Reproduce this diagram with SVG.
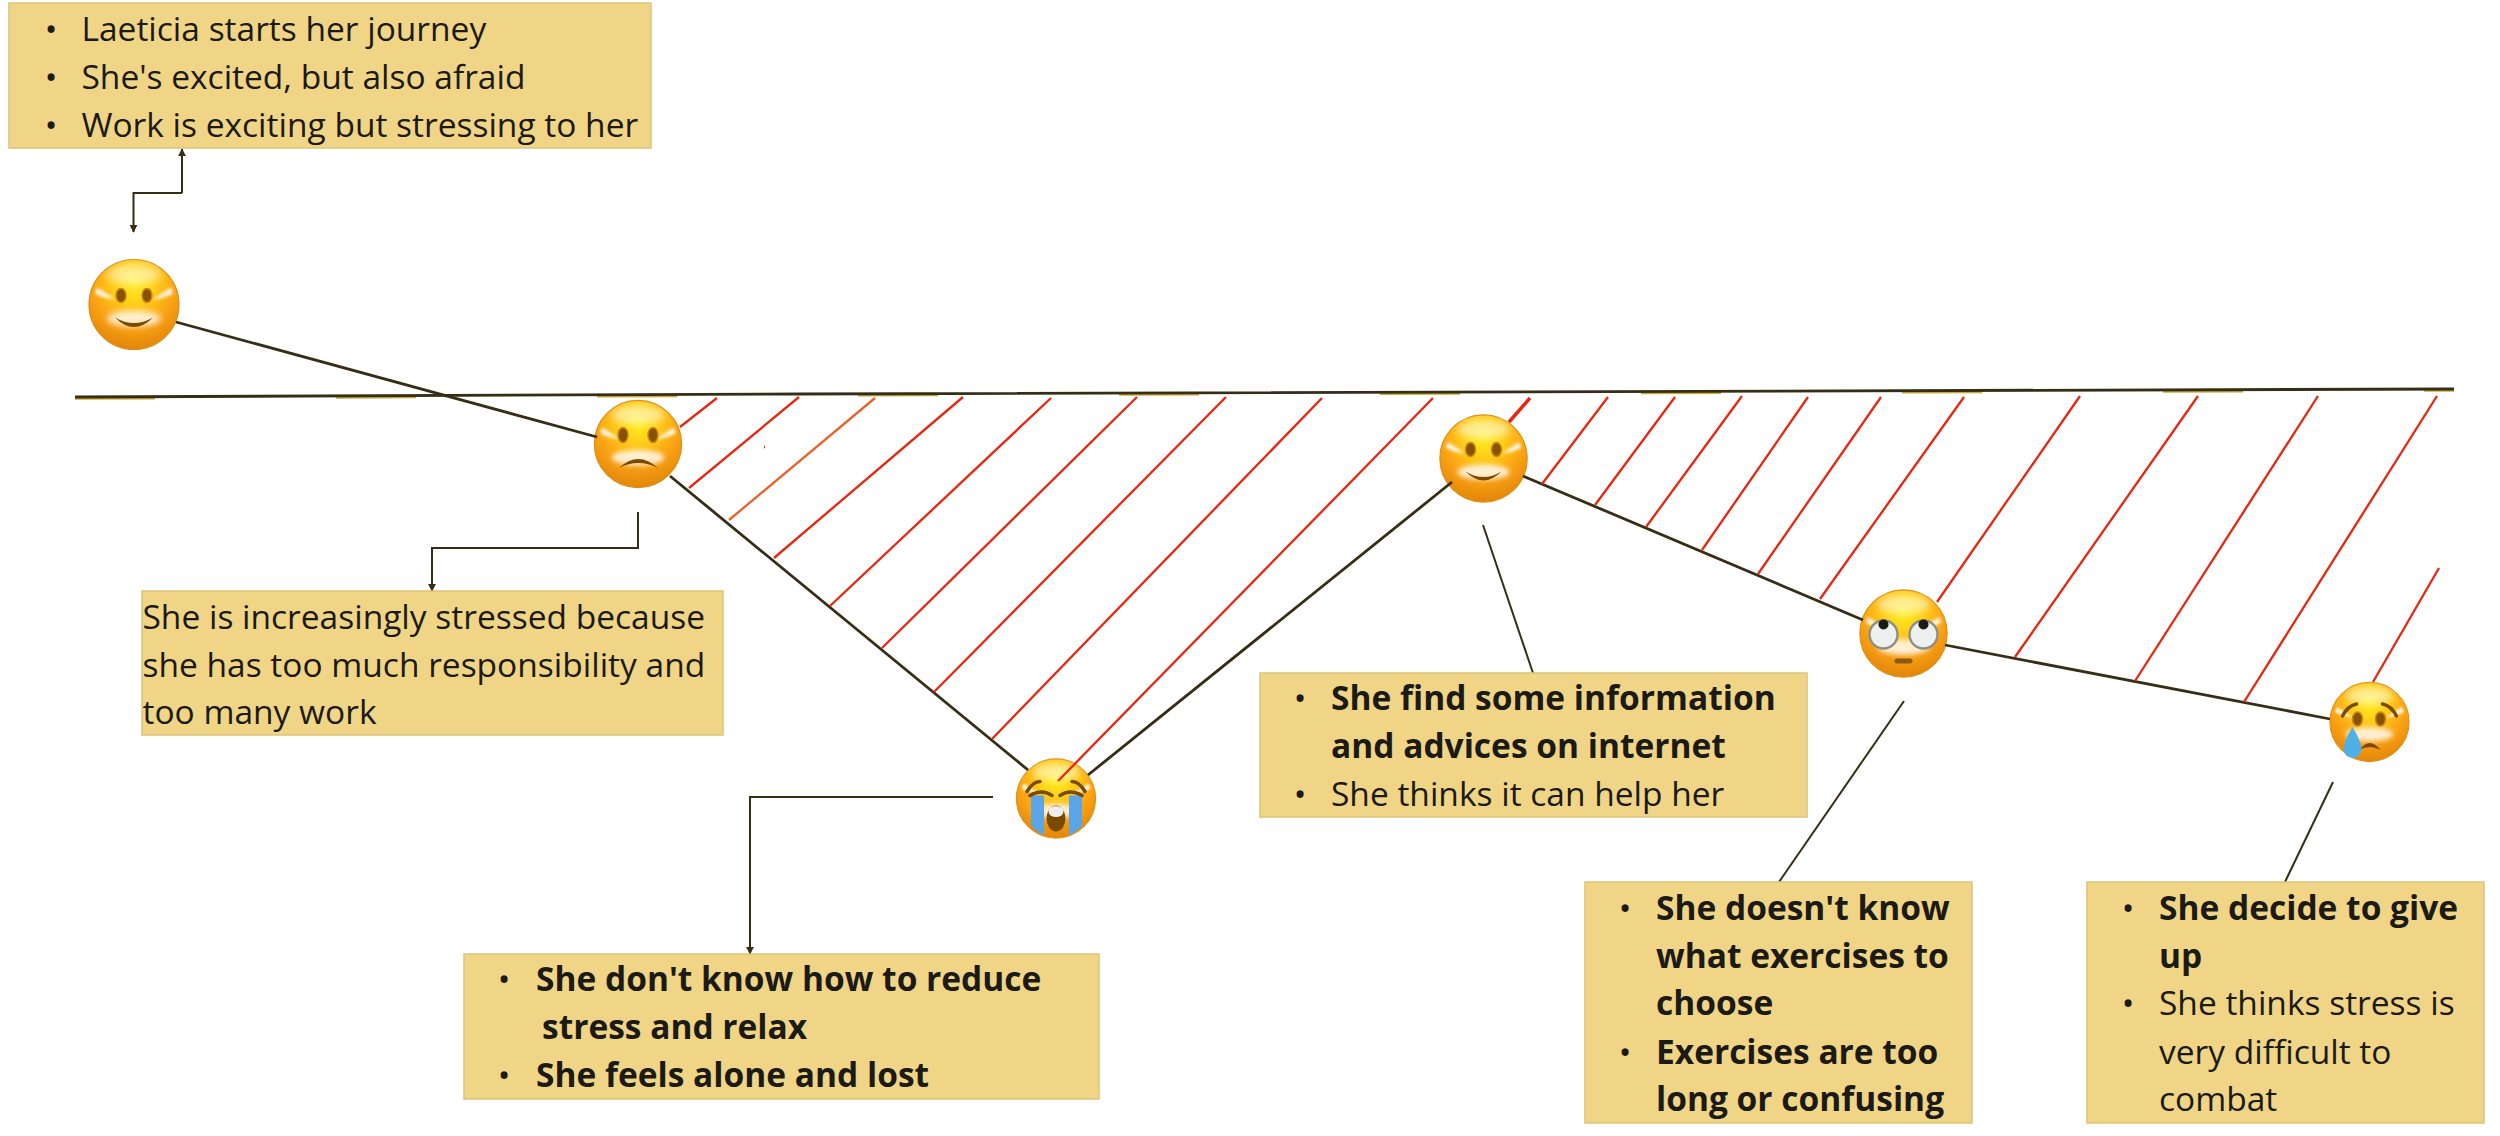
<svg xmlns="http://www.w3.org/2000/svg" width="2500" height="1136" viewBox="0 0 2500 1136">
<style>
.box{fill:#f0d586;stroke:#dcc377;stroke-width:1.5}
text{font-family:"Open Sans","Noto Sans","Liberation Sans",sans-serif;font-size:33.5px;fill:#1c1a14}
.b{font-weight:700}
.bu{text-anchor:middle}
.k{fill:none;stroke:#352d14;stroke-width:2.8}
.kt{fill:none;stroke:#352d14;stroke-width:2}
.r{fill:none;stroke:#e8260f;stroke-width:2.3}
.eye{fill:#8a5200;stroke:#c98a10;stroke-width:1.5}
.dk{fill:#7a4a00}
.br{fill:none;stroke:#7a4a00;stroke-width:3.5;stroke-linecap:round}
.ey2{fill:#eef0f0;stroke:#8f8f85;stroke-width:2.4}
</style>
<defs>
<radialGradient id="faceG" cx="50%" cy="26%" r="74%">
<stop offset="0" stop-color="#ffee20"/>
<stop offset=".3" stop-color="#ffcf18"/>
<stop offset=".62" stop-color="#fba414"/>
<stop offset="1" stop-color="#e2860a"/>
</radialGradient>
<filter id="bl" x="-30%" y="-30%" width="160%" height="160%"><feGaussianBlur stdDeviation="1.5"/></filter>
<filter id="bl3" x="-30%" y="-50%" width="160%" height="200%"><feGaussianBlur stdDeviation="3"/></filter>
<filter id="bl4" x="-40%" y="-40%" width="180%" height="180%"><feGaussianBlur stdDeviation="4"/></filter>
<marker id="arr" viewBox="0 0 10 10" refX="9" refY="5" markerWidth="8" markerHeight="8" markerUnits="userSpaceOnUse" orient="auto"><path d="M0,0L10,5L0,10Z" fill="#352d14"/></marker>
<g id="face">
<circle r="45" fill="url(#faceG)" stroke="#dd8f14" stroke-width="1.2"/>
<ellipse cy="-30" rx="27" ry="10" fill="#fff" opacity=".5" filter="url(#bl4)"/>
<path d="M-37,-17Q-30,-13 -19,-5Q-30,-6 -39,-11Z" fill="#fff" filter="url(#bl)" opacity=".85"/>
<path d="M37,-17Q30,-13 19,-5Q30,-6 39,-11Z" fill="#fff" filter="url(#bl)" opacity=".85"/>
<ellipse cy="14" rx="27" ry="8" fill="#fff" filter="url(#bl3)" opacity=".8"/>
</g>
</defs>

<g id="node-emoji-1" transform="translate(134 304.500)">
<use href="#face"/>
<ellipse class="eye" cx="-13" cy="-9" rx="5" ry="7"/><ellipse class="eye" cx="13" cy="-9" rx="5" ry="7"/>
<path class="dk" d="M-19,13Q0,24 19,13Q0,32 -19,13Z"/>
</g>
<g id="node-emoji-2" transform="translate(638 444)">
<use href="#face" transform="scale(.97)"/>
<ellipse class="eye" cx="-15" cy="-9" rx="5" ry="7.500"/><ellipse class="eye" cx="15" cy="-9" rx="5" ry="7.500"/>
<path class="dk" d="M-19,24Q0,6 20,24Q0,14 -19,24Z"/>
</g>
<g id="node-emoji-3" transform="translate(1056 798.500)">
<use href="#face" transform="scale(.88)"/>
<path d="M-25,-3H-12V37Q-20,33 -25,27Z" fill="#5aa5e8"/><path d="M13,-3H26V27Q21,33 13,37Z" fill="#5aa5e8"/>
<path class="br" d="M-29,-7Q-23,-17 -16,-17"/><path class="br" d="M29,-7Q23,-17 16,-17"/>
<path class="br" d="M-26,-3Q-14,-10 -4,-3"/><path class="br" d="M26,-3Q14,-10 4,-3"/>
<ellipse class="dk" cy="20" rx="9.500" ry="13"/>
<ellipse cy="13" rx="7.500" ry="5.500" fill="#eee"/>
</g>
<g id="node-emoji-4" transform="translate(1483.500 458.500)">
<use href="#face" transform="scale(.97)"/>
<ellipse class="eye" cx="-13" cy="-9" rx="5" ry="7"/><ellipse class="eye" cx="13" cy="-9" rx="5" ry="7"/>
<path class="dk" d="M-18,13Q0,24 18,13Q0,31 -18,13Z"/>
</g>
<g id="node-emoji-5" transform="translate(1903.500 633.500)">
<use href="#face" transform="scale(.97)"/>
<circle class="ey2" cx="-20" cy="1" r="14"/><circle class="ey2" cx="20" cy="1" r="14"/>
<circle cx="-20" cy="-9" r="5" fill="#1c1a14"/><circle cx="20" cy="-9" r="5" fill="#1c1a14"/>
<rect x="-9" y="25" width="18" height="5" rx="2.500" fill="#8a5a10"/>
</g>
<g id="node-emoji-6" transform="translate(2369.500 722)">
<use href="#face" transform="scale(.88)"/>
<ellipse class="eye" cx="-12" cy="-3" rx="5" ry="7"/><ellipse class="eye" cx="11" cy="-3" rx="5" ry="7"/>
<path class="br" d="M-27,-6Q-22,-16 -13,-18"/><path class="br" d="M13,-18Q22,-16 27,-6"/>
<path class="dk" d="M-10,28Q0,14 11,28Q0,22 -10,28Z"/>
<path d="M-17,5Q-8,20 -8,27A9,9 0 1 1 -26,27Q-26,20 -17,5Z" fill="#4fb0e8"/>
</g>

<g id="connectors">
<path d="M75,397L800,394L2454,389" fill="none" stroke="#c9a93a" stroke-width="2.500" stroke-dasharray="80 181" transform="translate(0 1.500)"/>
<path class="k" d="M75,397L800,394L2454,389"/>
<path class="k" d="M176,322L597,437"/>
<path class="k" d="M670,476L1028,770"/>
<path class="k" d="M1088,775L1452,482"/>
<path class="k" d="M1523,476L1863,620"/>
<path class="k" d="M1945,645L2330,719"/>
<g class="redlines">
<path class="r" d="M717,398L680,427"/>
<path class="r" d="M799,397L689,488"/>
<path class="r" style="stroke:#e8622a" d="M875,398L729,520"/>
<path class="r" d="M963,397L774,558"/>
<path class="r" d="M1051,398L830,606"/>
<path class="r" d="M1137,397L882,648"/>
<path class="r" d="M1226,397L934,692"/>
<path class="r" d="M1322,398L992,739"/>
<path class="r" d="M1433,398L1058,781"/>
<path class="r" style="stroke-width:3.500" d="M1530,398L1509,422"/>
<path class="r" d="M1608,397L1542,484"/>
<path class="r" d="M1675,397L1595,505"/>
<path class="r" d="M1742,396L1646,527"/>
<path class="r" d="M1808,397L1702,550"/>
<path class="r" d="M1881,397L1758,574"/>
<path class="r" d="M1964,397L1820,599"/>
<path class="r" d="M2080,396L1937,602"/>
<path class="r" d="M2198,396L2015,657"/>
<path class="r" d="M2318,396L2135,681"/>
<path class="r" d="M2437,396L2244,702"/>
<path class="r" d="M2439,568L2373,682"/>
<path class="r" d="M764,447L765,447"/>
</g>
<path class="kt" marker-end="url(#arr)" d="M182,193L133.500,193L133.500,232"/>
<path class="kt" marker-end="url(#arr)" d="M182,193L182,149"/>
<path class="kt" marker-end="url(#arr)" d="M638,512L638,548L432,548L432,591"/>
<path class="kt" marker-end="url(#arr)" d="M993,797L750,797L750,954"/>
<path class="kt" d="M1483,525L1533,673"/>
<path class="kt" d="M1904,701L1779,882"/>
<path class="kt" d="M2333,782L2285,882"/>
</g>

<g id="node-box-1">
<rect class="box" x="9" y="3" width="642" height="145"/>
<text class="bu" x="51" y="41">•</text><text x="81.500" y="41">Laeticia starts her journey</text>
<text class="bu" x="51" y="89">•</text><text x="81.500" y="89">She's excited, but also afraid</text>
<text class="bu" x="51" y="136.500">•</text><text x="81.500" y="136.500">Work is exciting but stressing to her</text>
</g>
<g id="node-box-2">
<rect class="box" x="142" y="591" width="581" height="144"/>
<text x="142.500" y="629">She is increasingly stressed because</text>
<text x="142.500" y="676.500">she has too much responsibility and</text>
<text x="142.500" y="724">too many work</text>
</g>
<g id="node-box-3">
<rect class="box" x="464" y="954" width="635" height="145"/>
<text class="bu" x="504" y="991">•</text><text class="b" x="536" y="991">She don't know how to reduce</text>
<text class="b" x="542" y="1039">stress and relax</text>
<text class="bu" x="504" y="1087">•</text><text class="b" x="536" y="1087">She feels alone and lost</text>
</g>
<g id="node-box-4">
<rect class="box" x="1260" y="673" width="547" height="144"/>
<text class="bu" x="1300" y="710">•</text><text class="b" x="1331" y="710">She find some information</text>
<text class="b" x="1331" y="758">and advices on internet</text>
<text class="bu" x="1300" y="806">•</text><text x="1331" y="806">She thinks it can help her</text>
</g>
<g id="node-box-5">
<rect class="box" x="1585" y="882" width="387" height="241"/>
<text class="bu" x="1625" y="920">•</text><text class="b" x="1656" y="920">She doesn't know</text>
<text class="b" x="1656" y="967.500">what exercises to</text>
<text class="b" x="1656" y="1015">choose</text>
<text class="bu" x="1625" y="1063.500">•</text><text class="b" x="1656" y="1063.500">Exercises are too</text>
<text class="b" x="1656" y="1111">long or confusing</text>
</g>
<g id="node-box-6">
<rect class="box" x="2087" y="882" width="397" height="241"/>
<text class="bu" x="2128" y="920">•</text><text class="b" x="2159" y="920">She decide to give</text>
<text class="b" x="2159" y="967.500">up</text>
<text class="bu" x="2128" y="1015">•</text><text x="2159" y="1015">She thinks stress is</text>
<text x="2159" y="1063.500">very difficult to</text>
<text x="2159" y="1111">combat</text>
</g>
</svg>
